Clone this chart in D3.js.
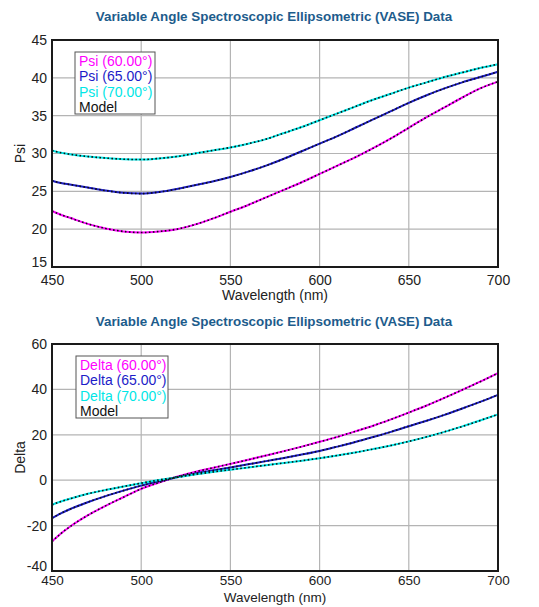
<!DOCTYPE html>
<html>
<head>
<meta charset="utf-8">
<script src="https://cdn.jsdelivr.net/npm/d3@7"></script>
<style>
  body { margin: 0; background: #fff; }
  svg { font-family: "Liberation Sans", Arial, sans-serif; }
</style>
</head>
<body>
<svg id="chart"></svg>
<script>
const width = 539;
const height = 607;

// wavelengths (nm)
const wl = [450, 455, 460, 470, 480, 490, 500, 510, 520, 530, 540, 550, 560, 570, 580, 590,
  600, 610, 620, 630, 640, 650, 660, 670, 680, 690, 700];

// Psi data
const psi60 = [22.4, 21.9, 21.5, 20.7, 20.1, 19.7, 19.55, 19.7, 20.0, 20.6, 21.4, 22.3, 23.2, 24.2, 25.2, 26.2,
  27.3, 28.4, 29.5, 30.7, 32.0, 33.4, 34.8, 36.1, 37.4, 38.6, 39.5];
const psi65 = [26.4, 26.1, 25.9, 25.5, 25.1, 24.8, 24.7, 24.9, 25.3, 25.8, 26.3, 26.9, 27.6, 28.4, 29.3, 30.3,
  31.3, 32.3, 33.4, 34.5, 35.6, 36.7, 37.7, 38.6, 39.4, 40.1, 40.8];
const psi70 = [30.4, 30.1, 29.9, 29.6, 29.4, 29.25, 29.2, 29.35, 29.6, 30.0, 30.4, 30.8, 31.3, 31.9, 32.7, 33.5,
  34.4, 35.3, 36.2, 37.1, 37.9, 38.7, 39.4, 40.1, 40.7, 41.3, 41.8];

// Delta data
const delta60 = [-27.0, -23.5, -20.5, -15.5, -11.3, -7.5, -3.8, -1.0, 1.5, 3.6, 5.4, 7.2, 9.0, 10.9, 12.8, 14.8,
  16.9, 19.1, 21.5, 24.0, 26.8, 29.8, 32.9, 36.3, 39.8, 43.4, 47.2];
const delta65 = [-16.7, -14.6, -12.8, -9.7, -7.0, -4.6, -2.4, -0.5, 1.3, 2.9, 4.3, 5.6, 7.0, 8.4, 9.8, 11.3,
  12.9, 14.8, 16.8, 19.0, 21.3, 23.8, 26.2, 28.8, 31.6, 34.5, 37.6];
const delta70 = [-10.8, -9.4, -8.2, -6.0, -4.3, -2.8, -1.3, 0.1, 1.3, 2.5, 3.6, 4.6, 5.6, 6.6, 7.6, 8.6,
  9.7, 10.9, 12.2, 13.7, 15.3, 17.1, 19.1, 21.3, 23.7, 26.3, 29.0];

const xTicks = [450, 500, 550, 600, 650, 700];
const psiTicks = [15, 20, 25, 30, 35, 40, 45];
const deltaTicks = [-40, -20, 0, 20, 40, 60];

const colors = ["#ff00ff", "#1c1cc8", "#00e6e6"];
const angles = ["60.00°", "65.00°", "70.00°"];
const titleText = "Variable Angle Spectroscopic Ellipsometric (VASE) Data";

const svg = d3.select("#chart").attr("width", width).attr("height", height);

function drawPanel(cfg) {
  const left = 52, right = 498;
  const x = d3.scaleLinear().domain([450, 700]).range([left, right]);
  const y = d3.scaleLinear().domain(cfg.domain).range([cfg.bottom, cfg.top]);
  const g = svg.append("g");

  g.append("text")
    .attr("x", 274)
    .attr("y", cfg.titleY)
    .attr("text-anchor", "middle")
    .attr("dominant-baseline", "middle")
    .style("font-weight", "bold")
    .style("font-size", "13.4px")
    .style("fill", "#1d5c8c")
    .text(titleText);

  // grid
  g.append("g")
    .selectAll("line")
    .data(xTicks.slice(1, -1))
    .enter()
    .append("line")
    .attr("x1", d => x(d)).attr("x2", d => x(d))
    .attr("y1", cfg.top).attr("y2", cfg.bottom)
    .attr("stroke", "#b4b4b4").attr("stroke-width", 1.2);
  g.append("g")
    .selectAll("line")
    .data(cfg.ticks.slice(1, -1))
    .enter()
    .append("line")
    .attr("x1", left).attr("x2", right)
    .attr("y1", d => y(d)).attr("y2", d => y(d))
    .attr("stroke", "#b4b4b4").attr("stroke-width", 1.2);

  // tick labels
  const xAxis = d3.axisBottom(x).tickValues(xTicks).tickSize(0).tickPadding(cfg.xPad);
  const yAxis = d3.axisLeft(y).tickValues(cfg.ticks).tickSize(0).tickPadding(5)
    .tickFormat(d => String(d));
  g.append("g").attr("transform", `translate(0, ${cfg.bottom})`).call(xAxis)
    .call(a => a.select(".domain").remove())
    .selectAll("text").style("font-size", cfg.xFont).style("fill", "#222");
  g.append("g").attr("transform", `translate(${left}, 0)`).call(yAxis)
    .call(a => a.select(".domain").remove())
    .selectAll("text").style("font-size", "14px").style("fill", "#222")
    .attr("dy", (d, i) => i === 0 ? "-0.05em" : "0.32em");

  g.append("text")
    .attr("x", (left + right) / 2)
    .attr("y", cfg.bottom + cfg.xTitle)
    .attr("text-anchor", "middle")
    .attr("dominant-baseline", "middle")
    .style("font-size", cfg.xFont)
    .style("fill", "#222")
    .text("Wavelength (nm)");
  g.append("text")
    .attr("transform", `translate(21, ${(cfg.top + cfg.bottom) / 2}) rotate(-90)`)
    .attr("text-anchor", "middle")
    .attr("dominant-baseline", "middle")
    .style("font-size", "14px")
    .style("fill", "#222")
    .text(cfg.label);

  const line = d3.line().x((d, i) => x(wl[i])).y(d => y(d)).curve(d3.curveMonotoneX);

  cfg.series.forEach((s, i) => {
    g.append("path").datum(s).attr("d", line)
      .attr("fill", "none").attr("stroke", colors[i]).attr("stroke-width", 2);
  });
  // model (dotted black over the data)
  cfg.series.forEach(s => {
    g.append("path").datum(s).attr("d", line)
      .attr("fill", "none").attr("stroke", "#111").attr("stroke-width", 1.6)
      .attr("stroke-dasharray", "1.6,2.4");
  });

  // frame
  g.append("rect")
    .attr("x", left).attr("y", cfg.top)
    .attr("width", right - left).attr("height", cfg.bottom - cfg.top)
    .attr("fill", "none").attr("stroke", "#1a1a1a").attr("stroke-width", 2);

  // legend
  const lg = g.append("g").attr("transform", `translate(${cfg.legend[0]}, ${cfg.legend[1]})`);
  lg.append("rect")
    .attr("width", cfg.legend[2]).attr("height", 62)
    .attr("fill", "#fff").attr("stroke", "#555").attr("stroke-width", 1);
  const items = angles.map((a, i) => ({ t: `${cfg.label} (${a})`, c: colors[i] }))
    .concat([{ t: "Model", c: "#111" }]);
  lg.selectAll("text")
    .data(items)
    .enter()
    .append("text")
    .attr("x", 4)
    .attr("y", (d, i) => 14 + i * 15.3)
    .style("font-size", "14px")
    .style("fill", d => d.c)
    .text(d => d.t);
}

drawPanel({
  top: 40, bottom: 267, titleY: 17, domain: [15, 45], ticks: psiTicks, label: "Psi",
  series: [psi60, psi65, psi70], legend: [75, 52, 80], xPad: 8, xTitle: 29, xFont: "14px"
});
drawPanel({
  top: 344, bottom: 571, titleY: 322, domain: [-40, 60], ticks: deltaTicks, label: "Delta",
  series: [delta60, delta65, delta70], legend: [76, 356, 92], xPad: 4, xTitle: 27, xFont: "13.5px"
});
</script>
</body>
</html>
